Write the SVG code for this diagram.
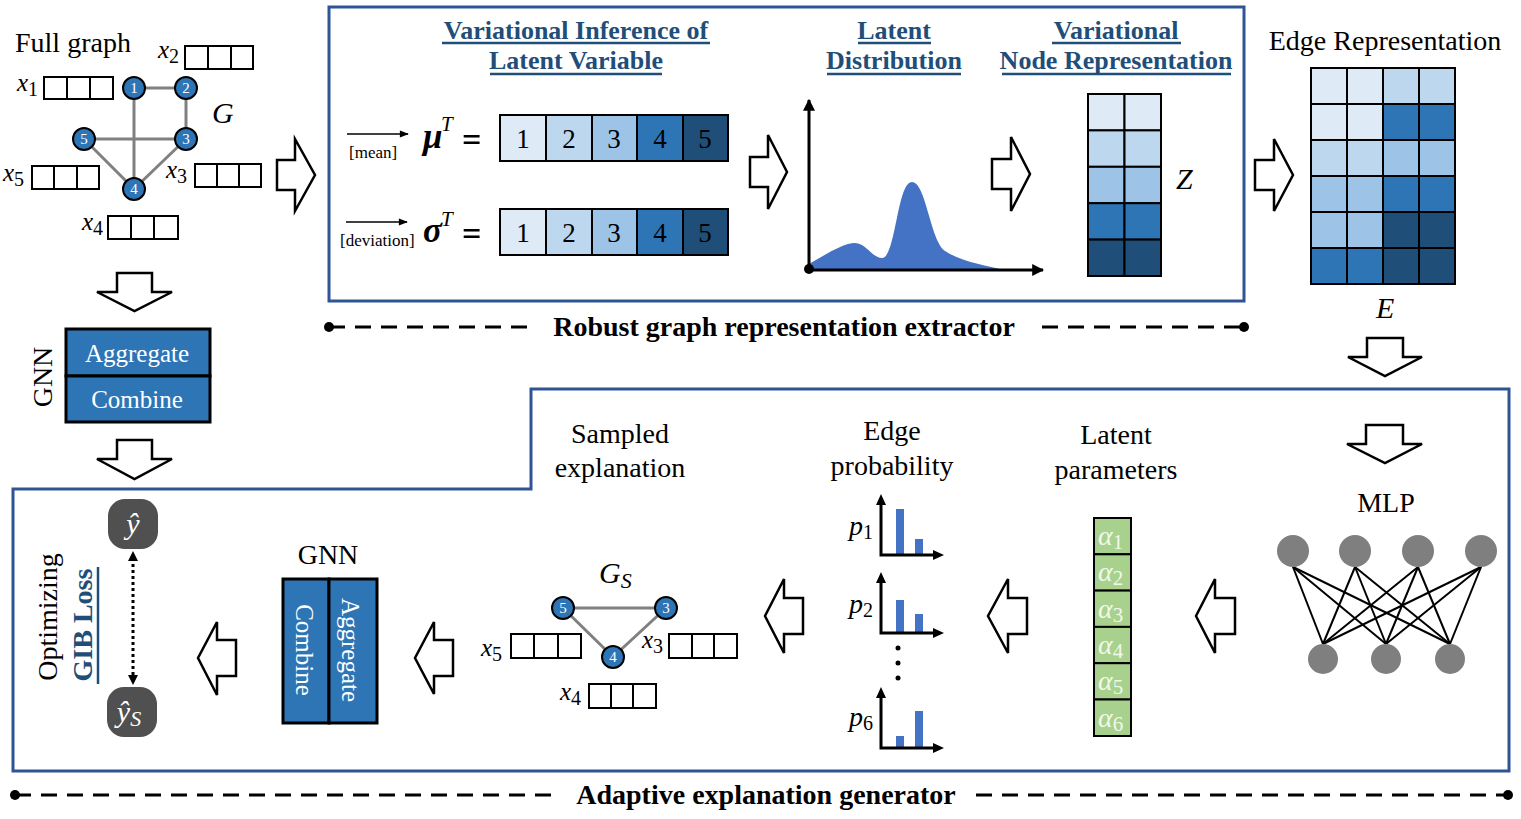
<svg xmlns="http://www.w3.org/2000/svg" width="1521" height="819" viewBox="0 0 1521 819">
<style>
text{font-family:"Liberation Serif","Times New Roman",serif;fill:#000}
.lbl{font-size:28px}
.hd{font-size:26px;font-weight:bold;fill:#1f4e79;text-anchor:middle}
.ul{stroke:#1f4e79;stroke-width:2.5}
.bold{font-size:28px;font-weight:bold;text-anchor:middle}
.mx{font-size:25px;font-style:italic}
.sb{font-size:20px;font-style:normal}
.mi{font-style:italic}
.frame{fill:none;stroke:#2f5597;stroke-width:3}
.dash{stroke:#000;stroke-width:3;stroke-dasharray:16 10}
.cell{stroke:#000;stroke-width:2}
.fb{fill:#fff;stroke:#000;stroke-width:2}
.edge{stroke:#808080;stroke-width:3}
.node{fill:#2e75b6;stroke:#000;stroke-width:2}
.nt{font-size:15px;fill:#fff;text-anchor:middle}
.barr{fill:#fff;stroke:#000;stroke-width:2.5;stroke-linejoin:miter}
.c1{fill:#deebf7}.c2{fill:#bdd7ee}.c3{fill:#9dc3e6}.c4{fill:#2e75b6}.c5{fill:#1f4e79}
.num{font-size:27px;text-anchor:middle}
.gnn{fill:#2e75b6;stroke:#000;stroke-width:3}
.wt{font-size:25px;fill:#fff;text-anchor:middle}
.ax{stroke:#000;stroke-width:3;fill:none}
.bar{fill:#4472c4}
.alpha{fill:#a9d18e;stroke:#000;stroke-width:2}
.at{font-size:28px;font-style:italic;fill:#f0f8ea}
.mlpn{fill:#7f7f7f}
.ml{stroke:#000;stroke-width:2}
</style>
<defs>
<marker id="ah" viewBox="0 0 10 10" refX="9" refY="5" markerWidth="4" markerHeight="4" orient="auto"><path d="M0,0 L10,5 L0,10 Z" fill="#000"/></marker>
<marker id="ahs" viewBox="0 0 10 10" refX="9" refY="5" markerWidth="8" markerHeight="6" orient="auto"><path d="M0,1 L10,5 L0,9 Z" fill="#000"/></marker>
</defs>

<!-- frames -->
<g id="frames">
<rect class="frame" x="329" y="7" width="915" height="294"/>
<path class="frame" d="M531,389 H1509 V771 H13 V489 H531 Z"/>
<line class="dash" x1="329" y1="327" x2="528" y2="327"/>
<line class="dash" x1="1042" y1="327" x2="1244" y2="327"/>
<circle cx="329" cy="327" r="5"/><circle cx="1244" cy="327" r="5"/>
<text class="bold" x="784" y="336">Robust graph representation extractor</text>
<line class="dash" x1="15" y1="795" x2="560" y2="795"/>
<line class="dash" x1="976" y1="795" x2="1508" y2="795"/>
<circle cx="15" cy="795" r="5"/><circle cx="1508" cy="795" r="5"/>
<text class="bold" x="766" y="804" font-size="28.5">Adaptive explanation generator</text>
</g>

<!-- full graph -->
<g id="full-graph">
<text class="lbl" x="15" y="52">Full graph</text>
<line class="edge" x1="134" y1="88" x2="186" y2="88"/>
<line class="edge" x1="186" y1="88" x2="186" y2="139"/>
<line class="edge" x1="84" y1="139" x2="186" y2="139"/>
<line class="edge" x1="134" y1="88" x2="134" y2="189"/>
<line class="edge" x1="84" y1="139" x2="134" y2="189"/>
<line class="edge" x1="186" y1="139" x2="134" y2="189"/>
<circle class="node" cx="134" cy="88" r="11"/><text class="nt" x="134" y="93">1</text>
<circle class="node" cx="186" cy="88" r="11"/><text class="nt" x="186" y="93">2</text>
<circle class="node" cx="186" cy="139" r="11"/><text class="nt" x="186" y="144">3</text>
<circle class="node" cx="84" cy="139" r="11"/><text class="nt" x="84" y="144">5</text>
<circle class="node" cx="134" cy="189" r="11"/><text class="nt" x="134" y="194">4</text>
<text class="mi" x="212" y="123" font-size="30">G</text>
<text class="mx" x="17" y="91">x<tspan class="sb" dy="5">1</tspan></text>
<rect class="fb" x="44" y="77" width="23" height="22"/><rect class="fb" x="67" y="77" width="23" height="22"/><rect class="fb" x="90" y="77" width="23" height="22"/>
<text class="mx" x="158" y="58">x<tspan class="sb" dy="5">2</tspan></text>
<rect class="fb" x="185" y="46" width="23" height="23"/><rect class="fb" x="208" y="46" width="23" height="23"/><rect class="fb" x="231" y="46" width="22" height="23"/>
<text class="mx" x="166" y="178">x<tspan class="sb" dy="5">3</tspan></text>
<rect class="fb" x="195" y="164" width="22" height="23"/><rect class="fb" x="217" y="164" width="22" height="23"/><rect class="fb" x="239" y="164" width="22" height="23"/>
<text class="mx" x="3" y="181">x<tspan class="sb" dy="5">5</tspan></text>
<rect class="fb" x="32" y="166" width="22" height="23"/><rect class="fb" x="54" y="166" width="23" height="23"/><rect class="fb" x="77" y="166" width="22" height="23"/>
<text class="mx" x="82" y="230">x<tspan class="sb" dy="5">4</tspan></text>
<rect class="fb" x="108" y="216" width="23" height="23"/><rect class="fb" x="131" y="216" width="23" height="23"/><rect class="fb" x="154" y="216" width="24" height="23"/>
</g>

<!-- GNN top-left -->
<g id="gnn-top">
<rect class="gnn" x="66" y="329" width="144" height="47"/>
<rect class="gnn" x="66" y="376" width="144" height="46"/>
<text class="wt" x="137" y="362">Aggregate</text>
<text class="wt" x="137" y="408">Combine</text>
<text class="lbl" transform="translate(52,377) rotate(-90)" text-anchor="middle">GNN</text>
</g>

<!-- variational inference -->
<g id="variational-inference">
<text class="hd" x="576" y="39">Variational Inference of</text>
<line class="ul" x1="442" y1="43" x2="710" y2="43"/>
<text class="hd" x="576" y="69">Latent Variable</text>
<line class="ul" x1="490" y1="74" x2="662" y2="74"/>
<line x1="347" y1="134" x2="408" y2="134" stroke="#000" stroke-width="1.5" marker-end="url(#ahs)"/>
<text x="349" y="158" font-size="17">[mean]</text>
<line x1="346" y1="222" x2="407" y2="222" stroke="#000" stroke-width="1.5" marker-end="url(#ahs)"/>
<text x="340" y="246" font-size="17">[deviation]</text>
<text x="423" y="148" font-size="35" font-weight="bold" font-style="italic">μ</text>
<text x="441" y="131" font-size="21" font-style="italic">T</text>
<text x="462" y="151" font-size="34" font-weight="bold">=</text>
<text x="423" y="242" font-size="35" font-weight="bold" font-style="italic">σ</text>
<text x="441" y="226" font-size="21" font-style="italic">T</text>
<text x="462" y="245" font-size="34" font-weight="bold">=</text>
<g>
<rect class="cell c1" x="500" y="115" width="46" height="46"/>
<rect class="cell c2" x="546" y="115" width="46" height="46"/>
<rect class="cell c3" x="592" y="115" width="45" height="46"/>
<rect class="cell c4" x="637" y="115" width="46" height="46"/>
<rect class="cell c5" x="683" y="115" width="45" height="46"/>
<text class="num" x="523" y="148">1</text><text class="num" x="569" y="148">2</text><text class="num" x="614" y="148">3</text><text class="num" x="660" y="148">4</text><text class="num" x="705" y="148">5</text>
</g>
<g>
<rect class="cell c1" x="500" y="209" width="46" height="46"/>
<rect class="cell c2" x="546" y="209" width="46" height="46"/>
<rect class="cell c3" x="592" y="209" width="45" height="46"/>
<rect class="cell c4" x="637" y="209" width="46" height="46"/>
<rect class="cell c5" x="683" y="209" width="45" height="46"/>
<text class="num" x="523" y="242">1</text><text class="num" x="569" y="242">2</text><text class="num" x="614" y="242">3</text><text class="num" x="660" y="242">4</text><text class="num" x="705" y="242">5</text>
</g>
</g>

<!-- latent distribution -->
<g id="latent-distribution">
<text class="hd" x="894" y="39">Latent</text>
<line class="ul" x1="858" y1="43" x2="931" y2="43"/>
<text class="hd" x="894" y="69">Distribution</text>
<line class="ul" x1="827" y1="74" x2="961" y2="74"/>
<path fill="#4472c4" d="M809,264 C825,255 843,243 855,243 C866,243 872,258 882,258 C896,258 897,182 912,182 C926,182 930,240 945,251 C962,262 985,265 1003,270 L809,270 Z"/>
<line x1="809" y1="270" x2="809" y2="100" stroke="#000" stroke-width="3" marker-end="url(#ah)"/>
<line x1="809" y1="270" x2="1043" y2="270" stroke="#000" stroke-width="3" marker-end="url(#ah)"/>
<circle cx="809" cy="269" r="5"/>
</g>

<!-- Z -->
<g id="node-representation">
<text class="hd" x="1116" y="39">Variational</text>
<line class="ul" x1="1052" y1="43" x2="1181" y2="43"/>
<text class="hd" x="1116" y="69">Node Representation</text>
<line class="ul" x1="1002" y1="74" x2="1231" y2="74"/>
<g>
<rect class="cell c1" x="1088" y="94" width="36.5" height="36.4"/><rect class="cell c1" x="1124.5" y="94" width="36.5" height="36.4"/>
<rect class="cell c2" x="1088" y="130.4" width="36.5" height="36.4"/><rect class="cell c2" x="1124.5" y="130.4" width="36.5" height="36.4"/>
<rect class="cell c3" x="1088" y="166.8" width="36.5" height="36.4"/><rect class="cell c3" x="1124.5" y="166.8" width="36.5" height="36.4"/>
<rect class="cell c4" x="1088" y="203.2" width="36.5" height="36.4"/><rect class="cell c4" x="1124.5" y="203.2" width="36.5" height="36.4"/>
<rect class="cell c5" x="1088" y="239.6" width="36.5" height="36.4"/><rect class="cell c5" x="1124.5" y="239.6" width="36.5" height="36.4"/>
</g>
<text class="mi" x="1176" y="189" font-size="30">Z</text>
</g>

<!-- E -->
<g id="edge-representation">
<text class="lbl" x="1385" y="50" text-anchor="middle">Edge Representation</text>
<rect class="cell c1" x="1311" y="68" width="36" height="36"/><rect class="cell c1" x="1347" y="68" width="36" height="36"/><rect class="cell c2" x="1383" y="68" width="36" height="36"/><rect class="cell c2" x="1419" y="68" width="36" height="36"/>
<rect class="cell c1" x="1311" y="104" width="36" height="36"/><rect class="cell c1" x="1347" y="104" width="36" height="36"/><rect class="cell c4" x="1383" y="104" width="36" height="36"/><rect class="cell c4" x="1419" y="104" width="36" height="36"/>
<rect class="cell c2" x="1311" y="140" width="36" height="36"/><rect class="cell c2" x="1347" y="140" width="36" height="36"/><rect class="cell c3" x="1383" y="140" width="36" height="36"/><rect class="cell c3" x="1419" y="140" width="36" height="36"/>
<rect class="cell c3" x="1311" y="176" width="36" height="36"/><rect class="cell c3" x="1347" y="176" width="36" height="36"/><rect class="cell c4" x="1383" y="176" width="36" height="36"/><rect class="cell c4" x="1419" y="176" width="36" height="36"/>
<rect class="cell c3" x="1311" y="212" width="36" height="36"/><rect class="cell c3" x="1347" y="212" width="36" height="36"/><rect class="cell c5" x="1383" y="212" width="36" height="36"/><rect class="cell c5" x="1419" y="212" width="36" height="36"/>
<rect class="cell c4" x="1311" y="248" width="36" height="36"/><rect class="cell c4" x="1347" y="248" width="36" height="36"/><rect class="cell c5" x="1383" y="248" width="36" height="36"/><rect class="cell c5" x="1419" y="248" width="36" height="36"/>
<text class="mi" x="1376" y="318" font-size="30">E</text>
</g>

<!-- MLP -->
<g id="mlp">
<text class="lbl" x="1386" y="512" text-anchor="middle">MLP</text>
<g>
<line class="ml" x1="1293" y1="567" x2="1323" y2="644"/><line class="ml" x1="1293" y1="567" x2="1386" y2="644"/><line class="ml" x1="1293" y1="567" x2="1450" y2="644"/>
<line class="ml" x1="1355" y1="567" x2="1323" y2="644"/><line class="ml" x1="1355" y1="567" x2="1386" y2="644"/><line class="ml" x1="1355" y1="567" x2="1450" y2="644"/>
<line class="ml" x1="1418" y1="567" x2="1323" y2="644"/><line class="ml" x1="1418" y1="567" x2="1386" y2="644"/><line class="ml" x1="1418" y1="567" x2="1450" y2="644"/>
<line class="ml" x1="1481" y1="567" x2="1323" y2="644"/><line class="ml" x1="1481" y1="567" x2="1386" y2="644"/><line class="ml" x1="1481" y1="567" x2="1450" y2="644"/>
</g>
<circle class="mlpn" cx="1293" cy="551" r="16"/><circle class="mlpn" cx="1355" cy="551" r="16"/><circle class="mlpn" cx="1418" cy="551" r="16"/><circle class="mlpn" cx="1481" cy="551" r="16"/>
<circle class="mlpn" cx="1323" cy="659" r="15"/><circle class="mlpn" cx="1386" cy="659" r="15"/><circle class="mlpn" cx="1450" cy="659" r="15"/>
</g>

<!-- latent parameters -->
<g id="latent-parameters">
<text class="lbl" x="1116" y="444" text-anchor="middle">Latent</text>
<text class="lbl" x="1116" y="479" text-anchor="middle">parameters</text>
<rect class="alpha" x="1094" y="518" width="37" height="36.3"/>
<rect class="alpha" x="1094" y="554.3" width="37" height="36.3"/>
<rect class="alpha" x="1094" y="590.6" width="37" height="36.3"/>
<rect class="alpha" x="1094" y="626.9" width="37" height="36.3"/>
<rect class="alpha" x="1094" y="663.2" width="37" height="36.3"/>
<rect class="alpha" x="1094" y="699.5" width="37" height="36.5"/>
<text class="at" x="1098" y="545">α<tspan font-size="21" font-style="normal" dy="4">1</tspan></text>
<text class="at" x="1098" y="581">α<tspan font-size="21" font-style="normal" dy="4">2</tspan></text>
<text class="at" x="1098" y="618">α<tspan font-size="21" font-style="normal" dy="4">3</tspan></text>
<text class="at" x="1098" y="654">α<tspan font-size="21" font-style="normal" dy="4">4</tspan></text>
<text class="at" x="1098" y="690">α<tspan font-size="21" font-style="normal" dy="4">5</tspan></text>
<text class="at" x="1098" y="727">α<tspan font-size="21" font-style="normal" dy="4">6</tspan></text>
</g>

<!-- edge probability -->
<g id="edge-probability">
<text class="lbl" x="892" y="440" text-anchor="middle">Edge</text>
<text class="lbl" x="892" y="475" text-anchor="middle">probability</text>
<rect class="bar" x="896" y="509" width="8" height="46"/><rect class="bar" x="915" y="539" width="8" height="16"/>
<polyline class="ax" points="881,500 881,555 938,555"/>
<path d="M881,494 L876,505 L886,505 Z M944,555 L933,550 L933,560 Z"/>
<text class="mi" x="849" y="535" font-size="28">p<tspan font-size="20" font-style="normal" dy="4">1</tspan></text>
<rect class="bar" x="896" y="600" width="8" height="33"/><rect class="bar" x="915" y="614" width="8" height="19"/>
<polyline class="ax" points="881,578 881,633 938,633"/>
<path d="M881,572 L876,583 L886,583 Z M944,633 L933,628 L933,638 Z"/>
<text class="mi" x="849" y="613" font-size="28">p<tspan font-size="20" font-style="normal" dy="4">2</tspan></text>
<circle cx="898" cy="648" r="2.5"/><circle cx="898" cy="663" r="2.5"/><circle cx="898" cy="678" r="2.5"/>
<rect class="bar" x="896" y="736" width="8" height="12"/><rect class="bar" x="915" y="711" width="8" height="37"/>
<polyline class="ax" points="881,693 881,748 938,748"/>
<path d="M881,687 L876,698 L886,698 Z M944,748 L933,743 L933,753 Z"/>
<text class="mi" x="849" y="726" font-size="28">p<tspan font-size="20" font-style="normal" dy="4">6</tspan></text>
</g>

<!-- sampled explanation -->
<g id="sampled-explanation">
<text class="lbl" x="620" y="443" text-anchor="middle">Sampled</text>
<text class="lbl" x="620" y="477" text-anchor="middle">explanation</text>
<text class="mi" x="599" y="583" font-size="30">G<tspan font-size="22" dy="5">S</tspan></text>
<line class="edge" x1="563" y1="608" x2="666" y2="608"/>
<line class="edge" x1="563" y1="608" x2="613" y2="657"/>
<line class="edge" x1="666" y1="608" x2="613" y2="657"/>
<circle class="node" cx="563" cy="608" r="11"/><text class="nt" x="563" y="613">5</text>
<circle class="node" cx="666" cy="608" r="11"/><text class="nt" x="666" y="613">3</text>
<circle class="node" cx="613" cy="657" r="11"/><text class="nt" x="613" y="662">4</text>
<text class="mx" x="481" y="656">x<tspan class="sb" dy="5">5</tspan></text>
<rect class="fb" x="511" y="634" width="23" height="24"/><rect class="fb" x="534" y="634" width="24" height="24"/><rect class="fb" x="558" y="634" width="23" height="24"/>
<text class="mx" x="642" y="648">x<tspan class="sb" dy="5">3</tspan></text>
<rect class="fb" x="669" y="634" width="23" height="24"/><rect class="fb" x="692" y="634" width="22" height="24"/><rect class="fb" x="714" y="634" width="23" height="24"/>
<text class="mx" x="560" y="700">x<tspan class="sb" dy="5">4</tspan></text>
<rect class="fb" x="589" y="684" width="22" height="24"/><rect class="fb" x="611" y="684" width="22" height="24"/><rect class="fb" x="633" y="684" width="23" height="24"/>
</g>

<!-- GNN bottom -->
<g id="gnn-bottom">
<text class="lbl" x="328" y="564" text-anchor="middle">GNN</text>
<rect class="gnn" x="283" y="579" width="46" height="144"/>
<rect class="gnn" x="329" y="579" width="48" height="144"/>
<text class="wt" transform="translate(296,650) rotate(90)">Combine</text>
<text class="wt" transform="translate(342,650) rotate(90)">Aggregate</text>
</g>

<!-- outputs -->
<g id="outputs">
<rect x="108" y="499" width="50" height="50" rx="17" fill="#505050"/>
<text x="133" y="534" font-size="30" font-style="italic" text-anchor="middle" style="fill:#fff">ŷ</text>
<rect x="107" y="687" width="50" height="50" rx="17" fill="#505050"/>
<text x="129" y="722" font-size="30" font-style="italic" text-anchor="middle" style="fill:#fff">ŷ<tspan font-size="22" dy="4">S</tspan></text>
<line x1="133" y1="558" x2="133" y2="678" stroke="#000" stroke-width="3" stroke-dasharray="3 3"/>
<path d="M133,551 L128,561 L138,561 Z M133,685 L128,675 L138,675 Z"/>
<text class="lbl" transform="translate(57,617) rotate(-90)" text-anchor="middle">Optimizing</text>
<text transform="translate(92,625) rotate(-90)" text-anchor="middle" font-size="28" font-weight="bold" style="fill:#1f4e79">GIB Loss</text>
<line x1="98" y1="567" x2="98" y2="684" stroke="#1f4e79" stroke-width="2.5"/>
</g>

<!-- connectors (block arrows) -->
<g id="connectors">
<path class="barr" d="M277,160 H295 V139 L315,175 L295,211 V190 H277 Z"/>
<path class="barr" d="M750,157 H768 V135 L787,172 L768,209 V187 H750 Z"/>
<path class="barr" d="M992,159 H1011 V137 L1030,174 L1011,211 V189 H992 Z"/>
<path class="barr" d="M1255,160 H1274 V139 L1293,175 L1274,211 V190 H1255 Z"/>
<path class="barr" d="M117,273 H152 V292 H172 L134.5,311 L97,292 H117 Z"/>
<path class="barr" d="M117,440 H152 V459 H172 L134.5,479 L97,459 H117 Z"/>
<path class="barr" d="M1367,338 H1403 V357 H1422 L1385,376 L1348,357 H1367 Z"/>
<path class="barr" d="M1366,425 H1403 V444 H1422 L1385,463 L1347,444 H1366 Z"/>
<path class="barr" d="M236,640 H217 V622 L198,658 L217,695 V676 H236 Z"/>
<path class="barr" d="M453,640 H434 V622 L415,658 L434,694 V676 H453 Z"/>
<path class="barr" d="M803,598 H784 V579 L765,616 L784,653 V634 H803 Z"/>
<path class="barr" d="M1027,598 H1008 V579 L988,616 L1008,653 V634 H1027 Z"/>
<path class="barr" d="M1235,598 H1215 V579 L1196,616 L1215,653 V634 H1235 Z"/>
</g>
</svg>
